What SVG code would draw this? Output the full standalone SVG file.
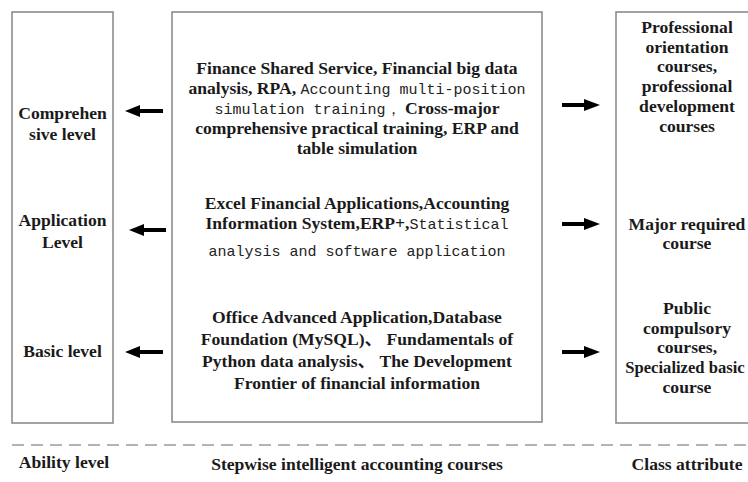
<svg xmlns="http://www.w3.org/2000/svg" width="748" height="482" viewBox="0 0 748 482">
<style>
.box{fill:#fff;stroke:#8c8c8c;stroke-width:1.6}
.b{font-family:"Liberation Serif","DejaVu Serif",serif;font-weight:bold;font-size:17.6px;fill:#1a1a1a}
.m{font-family:"Liberation Mono","DejaVu Sans Mono",monospace;font-weight:normal;font-size:15px;fill:#222}
.c{font-family:"Liberation Serif","Noto Sans CJK SC",serif}
.t{text-anchor:middle}
.dash{stroke:#9a9a9a;stroke-width:1.5;stroke-dasharray:12 7;fill:none}
.shaft{stroke:#000;stroke-width:4;fill:none}
.head{fill:#000}
</style>
<rect x="0" y="0" width="748" height="482" fill="#fff"/>
<g id="ability-box">
<rect class="box" x="12" y="12" width="101" height="411"/>
<text class="b t" x="62.5" y="119">Comprehen</text>
<text class="b t" x="62.5" y="140">sive level</text>
<text class="b t" x="62.5" y="226">Application</text>
<text class="b t" x="62.5" y="248">Level</text>
<text class="b t" x="62.5" y="357">Basic level</text>
</g>
<g id="courses-box">
<rect class="box" x="172" y="12" width="370" height="410"/>
<text class="b t" x="357" y="74">Finance Shared Service, Financial big data</text>
<text class="b t" x="357" y="94">analysis, RPA, <tspan class="m">Accounting multi-position</tspan></text>
<text class="b t" x="357" y="114"><tspan class="m">simulation training，</tspan> Cross-major</text>
<text class="b t" x="357" y="134">comprehensive practical training, ERP and</text>
<text class="b t" x="357" y="154">table simulation</text>
<text class="b t" x="357" y="209">Excel Financial Applications,Accounting</text>
<text class="b t" x="357" y="229">Information System,ERP+,<tspan class="m">Statistical</tspan></text>
<text class="m t" x="357" y="256">analysis and software application</text>
<text class="b t" x="357" y="323">Office Advanced Application,Database</text>
<text class="b t" x="357" y="345">Foundation (MySQL)<tspan class="c">、</tspan> Fundamentals of</text>
<text class="b t" x="357" y="367">Python data analysis<tspan class="c">、</tspan> The Development</text>
<text class="b t" x="357" y="389">Frontier of financial information</text>
</g>
<g id="attribute-box">
<rect class="box" x="616" y="12" width="150" height="411"/>
<text class="b t" x="687" y="33">Professional</text>
<text class="b t" x="687" y="53">orientation</text>
<text class="b t" x="687" y="72">courses,</text>
<text class="b t" x="687" y="92">professional</text>
<text class="b t" x="687" y="112">development</text>
<text class="b t" x="687" y="132">courses</text>
<text class="b t" x="687" y="230">Major required</text>
<text class="b t" x="687" y="249">course</text>
<text class="b t" x="687" y="314">Public</text>
<text class="b t" x="687" y="334">compulsory</text>
<text class="b t" x="687" y="353">courses,</text>
<text class="b t" x="685" y="373" style="font-size:16.6px">Specialized basic</text>
<text class="b t" x="687" y="393">course</text>
</g>
<g id="connectors">
<line class="shaft" x1="136" y1="111" x2="163" y2="111"/>
<polygon class="head" points="125,111 140,105 140,117"/>
<line class="shaft" x1="140" y1="230" x2="166" y2="230"/>
<polygon class="head" points="129,230 144,224 144,236"/>
<line class="shaft" x1="136" y1="352" x2="163" y2="352"/>
<polygon class="head" points="125,352 140,346 140,358"/>
<line class="shaft" x1="562" y1="105" x2="588" y2="105"/>
<polygon class="head" points="600,105 584,99 584,111"/>
<line class="shaft" x1="562" y1="224" x2="588" y2="224"/>
<polygon class="head" points="600,224 584,218 584,230"/>
<line class="shaft" x1="562" y1="352" x2="588" y2="352"/>
<polygon class="head" points="600,352 584,346 584,358"/>
</g>
<g id="footer">
<line class="dash" x1="12" y1="445" x2="748" y2="445"/>
<text class="b t" x="64" y="468">Ability level</text>
<text class="b t" x="357" y="470">Stepwise intelligent accounting courses</text>
<text class="b t" x="687" y="470">Class attribute</text>
</g>
</svg>
